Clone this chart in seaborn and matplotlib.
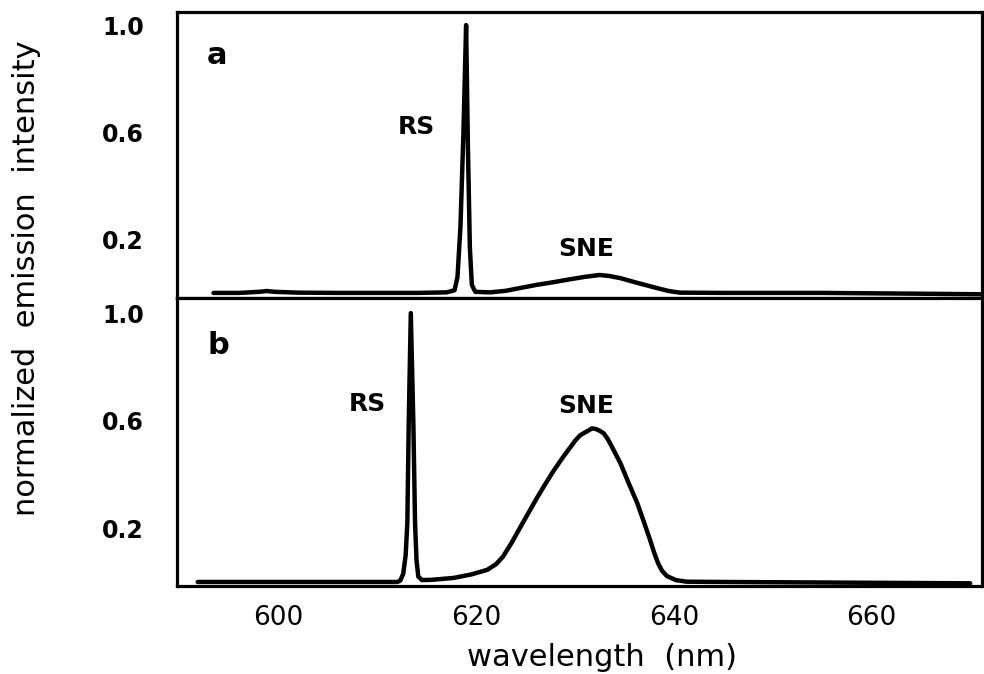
import matplotlib
matplotlib.use("Agg")
import matplotlib.pyplot as plt
import pandas as pd
import seaborn as sns

# ---------------- data ----------------
wl_a = [593.4, 596.0, 598.0, 598.8, 599.6, 602.0, 606.0, 610.0, 614.0, 617.0,
        617.8, 618.1, 618.4, 618.7, 618.97, 619.15, 619.35, 619.55, 619.9, 621.4,
        623.0, 624.4, 626.1, 627.8, 629.5, 631.0, 632.5, 633.5, 634.6, 636.25,
        638.3, 639.5, 640.6, 645.0, 655.0, 665.0, 671.0]
int_a = [0.0, 0.0, 0.004, 0.007, 0.004, 0.001, 0.0, 0.0, 0.0, 0.002,
         0.01, 0.06, 0.25, 0.6, 1.0, 0.55, 0.17, 0.03, 0.004, 0.002,
         0.008, 0.018, 0.03, 0.04, 0.051, 0.06, 0.067, 0.063, 0.055, 0.038,
         0.018, 0.007, 0.001, 0.0, 0.0, -0.003, -0.005]

wl_b = [591.8, 596.0, 600.0, 605.0, 610.0, 612.0, 612.3, 612.6, 612.85, 613.02,
        613.16, 613.37, 613.63, 613.8, 613.95, 614.13, 614.5, 615.5, 617.7, 619.5,
        621.1, 622.0, 622.7, 623.6, 624.4, 625.3, 626.1, 627.0, 627.8, 628.7,
        629.5, 630.0, 630.5, 631.0, 631.4, 631.7, 632.1, 632.5, 632.9, 633.3,
        633.7, 634.6, 635.4, 636.3, 637.0, 637.6, 638.0, 638.4, 638.8, 639.3,
        640.2, 641.3, 645.0, 655.0, 665.0, 670.0]
int_b = [0.0, 0.0, 0.0, 0.0, 0.0, 0.0, 0.005, 0.03, 0.1, 0.22,
         0.59, 1.0, 0.59, 0.22, 0.08, 0.02, 0.007, 0.008, 0.015, 0.028,
         0.045, 0.066, 0.094, 0.147, 0.2, 0.258, 0.31, 0.365, 0.412, 0.46,
         0.50, 0.525, 0.545, 0.556, 0.564, 0.571, 0.569, 0.562, 0.553, 0.532,
         0.505, 0.441, 0.37, 0.293, 0.22, 0.156, 0.11, 0.07, 0.042, 0.022,
         0.007, 0.001, 0.0, -0.002, -0.004, -0.005]

x_ticks = [600, 620, 640, 660]
x_tick_labels = ["600", "620", "640", "660"]
y_ticks = [0.2, 0.6, 1.0]
y_tick_labels = ["0.2", "0.6", "1.0"]
panel_names = ["a", "b"]
peak_names = ["RS", "SNE"]
x_label = "wavelength  (nm)"
y_label = "normalized  emission  intensity"

df_a = pd.DataFrame({"wavelength": wl_a, "intensity": int_a})
df_b = pd.DataFrame({"wavelength": wl_b, "intensity": int_b})

# ---------------- style ----------------
sns.set_theme(style="white")
plt.rcParams["font.family"] = ["DejaVu Sans"]

W, H = 984, 674
fig = plt.figure(figsize=(W / 100, H / 100), dpi=100)
fig.patch.set_facecolor("white")

L, R = 177, 982
T, M, B = 12, 298, 586
ax_a = fig.add_axes([L / W, 1 - M / H, (R - L) / W, (M - T) / H])
ax_b = fig.add_axes([L / W, 1 - B / H, (R - L) / W, (B - M) / H], sharex=ax_a)

line_kw = dict(color="black", linewidth=3.2)
sns.lineplot(data=df_a, x="wavelength", y="intensity", ax=ax_a, **line_kw)
sns.lineplot(data=df_b, x="wavelength", y="intensity", ax=ax_b, **line_kw)
for ax in (ax_a, ax_b):
    for ln in ax.get_lines():
        ln.set_solid_joinstyle("round")
        ln.set_solid_capstyle("round")

ax_a.set_xlim(589.7, 671.2)
ax_a.set_ylim(-0.019, 1.049)
ax_b.set_ylim(-0.015, 1.056)

for ax in (ax_a, ax_b):
    ax.set_facecolor("white")
    ax.set_xlabel("")
    ax.set_ylabel("")
    ax.grid(False)
    for s in ax.spines.values():
        s.set_visible(True)
        s.set_color("black")
        s.set_linewidth(2.3)
    ax.set_yticks(y_ticks)
    ax.set_yticklabels(y_tick_labels, fontsize=17, fontweight="bold")
    ax.tick_params(axis="y", length=0, pad=24, colors="black")
    ax.tick_params(axis="x", length=0, colors="black")

ax_a.tick_params(axis="x", labelbottom=False)
ax_b.set_xticks(x_ticks)
ax_b.set_xticklabels(x_tick_labels, fontsize=19)
ax_b.tick_params(axis="x", pad=14)

txt_kw = dict(ha="center", va="center", color="black", fontweight="bold")
ax_a.text(593.8, 0.885, panel_names[0], fontsize=22, **txt_kw)
ax_a.text(613.9, 0.618, peak_names[0], fontsize=18, **txt_kw)
ax_a.text(631.1, 0.164, peak_names[1], fontsize=18, **txt_kw)
ax_b.text(593.85, 0.879, panel_names[1], fontsize=22, **txt_kw)
ax_b.text(609.0, 0.662, peak_names[0], fontsize=18, **txt_kw)
ax_b.text(631.1, 0.656, peak_names[1], fontsize=18, **txt_kw)

fig.text(27 / W, 1 - 278.5 / H, y_label, rotation=90, ha="center", va="center",
         fontsize=22, color="black")
fig.text(602 / W, 1 - 657 / H, x_label, ha="center", va="center",
         fontsize=22, color="black")

fig.savefig("out.png", dpi=100, facecolor="white")
